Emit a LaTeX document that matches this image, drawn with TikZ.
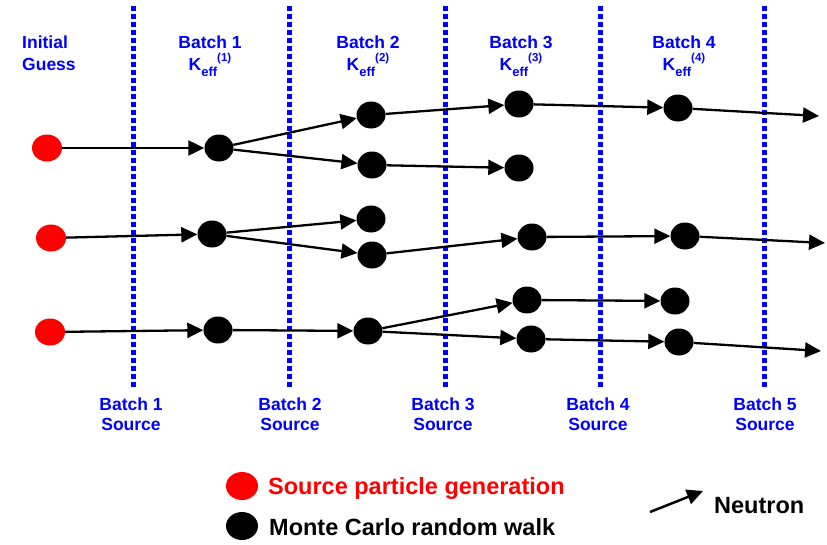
\documentclass[tikz,border=0pt]{standalone}
\usepackage{fontspec}
\setmainfont{Liberation Sans}
\usetikzlibrary{shapes.geometric,arrows.meta}
\newcommand{\keffx}[1]{K\raisebox{-6pt}{\fontsize{13}{13}\selectfont eff}\raisebox{9pt}{\fontsize{11.5}{11.5}\selectfont (#1)}}
\tikzset{
  tri/.tip={Triangle[length=16pt,width=15pt]},
}
\begin{document}
\begin{tikzpicture}[x=1pt,y=-1pt,
  src/.style={ellipse,fill=red,minimum width=30pt,minimum height=27pt,inner sep=0pt},
  walk/.style={ellipse,fill=black,minimum width=29pt,minimum height=27pt,inner sep=0pt},
  conn/.style={line width=2.3pt,-tri},
  sepline/.style={blue,line width=5pt,dash pattern=on 5pt off 3pt},
  lab/.style={text=blue,font=\fontsize{17.5}{17.5}\selectfont\bfseries,inner sep=0pt,anchor=base},
  leg/.style={font=\fontsize{23.5}{23.5}\selectfont\bfseries,inner sep=0pt,anchor=base west},
 ]
\useasboundingbox (0,0) rectangle (827,544);
% separators
\foreach \x in {133,289,445,600,764}{
  \draw[sepline] (\x,6) -- (\x,387);
}
% top labels
\node[lab,anchor=base west] (ig1) at (22,48) {Initial};
\node[lab,anchor=base west] (ig2) at (22,70) {Guess};
\node[lab] (t1) at (210,48) {Batch 1};
\node[lab] (k1) at (210,70) {\keffx{1}};
\node[lab] (t2) at (368,48) {Batch 2};
\node[lab] (k2) at (368,70) {\keffx{2}};
\node[lab] (t3) at (521,48) {Batch 3};
\node[lab] (k3) at (521,70) {\keffx{3}};
\node[lab] (t4) at (684,48) {Batch 4};
\node[lab] (k4) at (684,70) {\keffx{4}};
% bottom labels
\node[lab] (s1a) at (131,410) {Batch 1};
\node[lab] (s1b) at (131,430) {Source};
\node[lab] (s2a) at (290,410) {Batch 2};
\node[lab] (s2b) at (290,430) {Source};
\node[lab] (s3a) at (443,410) {Batch 3};
\node[lab] (s3b) at (443,430) {Source};
\node[lab] (s4a) at (598,410) {Batch 4};
\node[lab] (s4b) at (598,430) {Source};
\node[lab] (s5a) at (765,410) {Batch 5};
\node[lab] (s5b) at (765,430) {Source};
% particles
\node[src] (r1) at (47,148) {};
\node[src] (r2) at (51,238) {};
\node[src] (r3) at (50,332) {};
\node[walk] (a1) at (219,148) {};
\node[walk] (a2) at (212,234) {};
\node[walk] (a3) at (218,330) {};
\node[walk] (b1) at (371,115) {};
\node[walk] (b2) at (372,165) {};
\node[walk] (b3) at (371,219) {};
\node[walk] (b4) at (372,255) {};
\node[walk] (b5) at (368,331) {};
\node[walk] (c1) at (519,104) {};
\node[walk] (c2) at (519,168) {};
\node[walk] (c3) at (532,237) {};
\node[walk] (c4) at (527,300) {};
\node[walk] (c5) at (531,339) {};
\node[walk] (d1) at (678,108) {};
\node[walk] (d3) at (685,236) {};
\node[walk] (d4) at (675,301) {};
\node[walk] (d5) at (679,342) {};
\coordinate (e1) at (819,116);
\coordinate (e2) at (825,243);
\coordinate (e3) at (821,351);
% connectors
\draw[conn] (r1) -- (a1);
\draw[conn] (a1) -- (b1);
\draw[conn] (a1) -- (b2);
\draw[conn] (b1) -- (c1);
\draw[conn] (b2) -- (c2);
\draw[conn] (c1) -- (d1);
\draw[conn] (d1) -- (e1);
\draw[conn] (r2) -- (a2);
\draw[conn] (a2) -- (b3);
\draw[conn] (a2) -- (b4);
\draw[conn] (b4) -- (c3);
\draw[conn] (c3) -- (d3);
\draw[conn] (d3) -- (e2);
\draw[conn] (r3) -- (a3);
\draw[conn] (a3) -- (b5);
\draw[conn] (b5) -- (c4);
\draw[conn] (b5) -- (c5);
\draw[conn] (c4) -- (d4);
\draw[conn] (c5) -- (d5);
\draw[conn] (d5) -- (e3);
% legend
\node[src,minimum width=32pt,minimum height=28pt] (ls) at (242,486) {};
\node[walk,minimum width=32pt,minimum height=28pt] (lw) at (242,526) {};
\node[leg,text=red] (lst) at (268,494) {Source particle generation};
\node[leg,text=black] (lwt) at (269,535) {Monte Carlo random walk};
\coordinate (n0) at (650,512);
\coordinate (n1) at (703,491);
\draw[conn,line width=2.5pt] (n0) -- (n1);
\node[leg,text=black] (nt) at (714,513) {Neutron};
\end{tikzpicture}
\end{document}
